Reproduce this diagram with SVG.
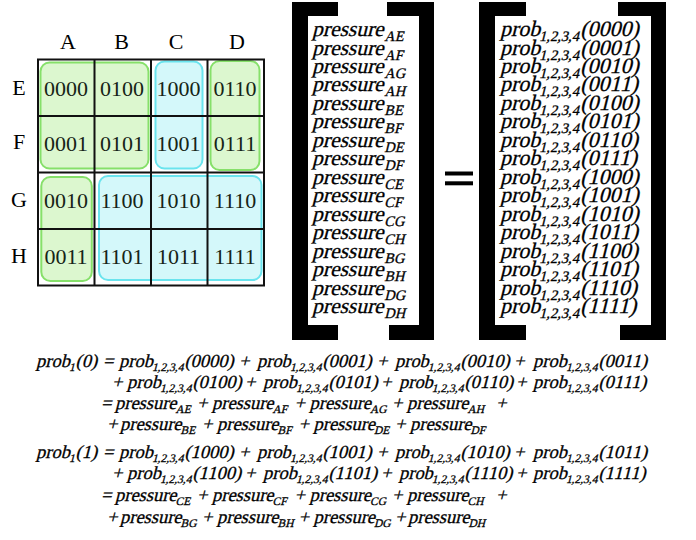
<svg xmlns="http://www.w3.org/2000/svg" width="696" height="540" viewBox="0 0 696 540">
<style>
text{font-family:"Liberation Serif","Times New Roman",serif;fill:#000}
.lbl{font-size:22px;text-anchor:middle}
.cell{font-size:22px;text-anchor:middle;fill:#162416}
.g{fill:#dcf7cf;stroke:#86e06a;stroke-width:2}
.c{fill:#d4f8fa;stroke:#6ae4ee;stroke-width:2}
.grid{stroke:#111;stroke-width:2;fill:none}
.m1{font-size:21.5px}
.m2{font-size:22px}
.eq{font-size:18.5px}
.m1 text,.m2 text,.eq text{stroke:#000;stroke-width:0.3}
.s{font-size:14.5px}
.es{font-size:11.5px}
.br{fill:#000}
</style>
<g id="kmap">
  <rect class="g" x="40.5" y="62.5" width="108" height="106" rx="9"/>
  <rect class="c" x="155.5" y="61.5" width="47" height="107" rx="9"/>
  <rect class="g" x="210.5" y="61" width="49" height="109" rx="9"/>
  <rect class="g" x="41.3" y="177" width="50.5" height="104" rx="9"/>
  <rect class="c" x="99" y="176" width="162.5" height="104" rx="9"/>
  <rect class="grid" x="38" y="59.5" width="226" height="226"/>
  <path class="grid" d="M94.5,59.5V285.5M151,59.5V285.5M207.5,59.5V285.5M38,116H264M38,172.5H264M38,229H264"/>
  <text class="lbl" x="68" y="49">A</text>
  <text class="lbl" x="121.5" y="49">B</text>
  <text class="lbl" x="176" y="49">C</text>
  <text class="lbl" x="237" y="49">D</text>
  <text class="lbl" x="19" y="95">E</text>
  <text class="lbl" x="19" y="149">F</text>
  <text class="lbl" x="19" y="207">G</text>
  <text class="lbl" x="19" y="263">H</text>
  <text class="cell" x="66" y="96">0000</text>
  <text class="cell" x="122" y="96">0100</text>
  <text class="cell" x="178.5" y="96">1000</text>
  <text class="cell" x="235" y="96">0110</text>
  <text class="cell" x="66" y="150.5">0001</text>
  <text class="cell" x="122" y="150.5">0101</text>
  <text class="cell" x="178.5" y="150.5">1001</text>
  <text class="cell" x="235" y="150.5">0111</text>
  <text class="cell" x="66" y="208">0010</text>
  <text class="cell" x="122" y="208">1100</text>
  <text class="cell" x="178.5" y="208">1010</text>
  <text class="cell" x="235" y="208">1110</text>
  <text class="cell" x="66" y="264">0011</text>
  <text class="cell" x="122" y="264">1101</text>
  <text class="cell" x="178.5" y="264">1011</text>
  <text class="cell" x="235" y="264">1111</text>
</g>
<g id="matrix-pressure">
  <path class="br" d="M292,2H338V16H308V325H338V340H292Z"/>
  <path class="br" d="M387,2H434V340H389V325H419V16H387Z"/>
  <g class="m1">
    <text x="312" transform="translate(0,36) skewX(-14)">pressure<tspan class="s" dx="2" dy="5">AE</tspan></text>
    <text x="312" transform="translate(0,54.5) skewX(-14)">pressure<tspan class="s" dx="2" dy="5">AF</tspan></text>
    <text x="312" transform="translate(0,72.9) skewX(-14)">pressure<tspan class="s" dx="2" dy="5">AG</tspan></text>
    <text x="312" transform="translate(0,91.4) skewX(-14)">pressure<tspan class="s" dx="2" dy="5">AH</tspan></text>
    <text x="312" transform="translate(0,109.9) skewX(-14)">pressure<tspan class="s" dx="2" dy="5">BE</tspan></text>
    <text x="312" transform="translate(0,128.4) skewX(-14)">pressure<tspan class="s" dx="2" dy="5">BF</tspan></text>
    <text x="312" transform="translate(0,146.8) skewX(-14)">pressure<tspan class="s" dx="2" dy="5">DE</tspan></text>
    <text x="312" transform="translate(0,165.3) skewX(-14)">pressure<tspan class="s" dx="2" dy="5">DF</tspan></text>
    <text x="312" transform="translate(0,183.8) skewX(-14)">pressure<tspan class="s" dx="2" dy="5">CE</tspan></text>
    <text x="312" transform="translate(0,202.2) skewX(-14)">pressure<tspan class="s" dx="2" dy="5">CF</tspan></text>
    <text x="312" transform="translate(0,220.7) skewX(-14)">pressure<tspan class="s" dx="2" dy="5">CG</tspan></text>
    <text x="312" transform="translate(0,239.2) skewX(-14)">pressure<tspan class="s" dx="2" dy="5">CH</tspan></text>
    <text x="312" transform="translate(0,257.6) skewX(-14)">pressure<tspan class="s" dx="2" dy="5">BG</tspan></text>
    <text x="312" transform="translate(0,276.1) skewX(-14)">pressure<tspan class="s" dx="2" dy="5">BH</tspan></text>
    <text x="312" transform="translate(0,294.6) skewX(-14)">pressure<tspan class="s" dx="2" dy="5">DG</tspan></text>
    <text x="312" transform="translate(0,313) skewX(-14)">pressure<tspan class="s" dx="2" dy="5">DH</tspan></text>
  </g>
</g>
<g id="equals">
  <rect class="br" x="445" y="171.5" width="28" height="4"/>
  <rect class="br" x="445" y="181.3" width="28" height="4"/>
</g>
<g id="matrix-prob">
  <path class="br" d="M479,2H526V16H495V325H526V340H479Z"/>
  <path class="br" d="M618,2H666V340H620V325H651V16H618Z"/>
  <g class="m2">
    <text x="500" transform="translate(0,36) skewX(-14)">prob<tspan class="s" dy="5">1,2,3,4</tspan><tspan dy="-5">(0000)</tspan></text>
    <text x="500" transform="translate(0,54.5) skewX(-14)">prob<tspan class="s" dy="5">1,2,3,4</tspan><tspan dy="-5">(0001)</tspan></text>
    <text x="500" transform="translate(0,72.9) skewX(-14)">prob<tspan class="s" dy="5">1,2,3,4</tspan><tspan dy="-5">(0010)</tspan></text>
    <text x="500" transform="translate(0,91.4) skewX(-14)">prob<tspan class="s" dy="5">1,2,3,4</tspan><tspan dy="-5">(0011)</tspan></text>
    <text x="500" transform="translate(0,109.9) skewX(-14)">prob<tspan class="s" dy="5">1,2,3,4</tspan><tspan dy="-5">(0100)</tspan></text>
    <text x="500" transform="translate(0,128.4) skewX(-14)">prob<tspan class="s" dy="5">1,2,3,4</tspan><tspan dy="-5">(0101)</tspan></text>
    <text x="500" transform="translate(0,146.8) skewX(-14)">prob<tspan class="s" dy="5">1,2,3,4</tspan><tspan dy="-5">(0110)</tspan></text>
    <text x="500" transform="translate(0,165.3) skewX(-14)">prob<tspan class="s" dy="5">1,2,3,4</tspan><tspan dy="-5">(0111)</tspan></text>
    <text x="500" transform="translate(0,183.8) skewX(-14)">prob<tspan class="s" dy="5">1,2,3,4</tspan><tspan dy="-5">(1000)</tspan></text>
    <text x="500" transform="translate(0,202.2) skewX(-14)">prob<tspan class="s" dy="5">1,2,3,4</tspan><tspan dy="-5">(1001)</tspan></text>
    <text x="500" transform="translate(0,220.7) skewX(-14)">prob<tspan class="s" dy="5">1,2,3,4</tspan><tspan dy="-5">(1010)</tspan></text>
    <text x="500" transform="translate(0,239.2) skewX(-14)">prob<tspan class="s" dy="5">1,2,3,4</tspan><tspan dy="-5">(1011)</tspan></text>
    <text x="500" transform="translate(0,257.6) skewX(-14)">prob<tspan class="s" dy="5">1,2,3,4</tspan><tspan dy="-5">(1100)</tspan></text>
    <text x="500" transform="translate(0,276.1) skewX(-14)">prob<tspan class="s" dy="5">1,2,3,4</tspan><tspan dy="-5">(1101)</tspan></text>
    <text x="500" transform="translate(0,294.6) skewX(-14)">prob<tspan class="s" dy="5">1,2,3,4</tspan><tspan dy="-5">(1110)</tspan></text>
    <text x="500" transform="translate(0,313) skewX(-14)">prob<tspan class="s" dy="5">1,2,3,4</tspan><tspan dy="-5">(1111)</tspan></text>
  </g>
</g>
<g id="equations" class="eq">
  <text transform="translate(0,366.5) skewX(-14)"><tspan x="36">prob</tspan><tspan class="es" dy="4">1</tspan><tspan dy="-4">(0)</tspan><tspan x="103">=</tspan><tspan x="119">prob</tspan><tspan class="es" dy="4">1,2,3,4</tspan><tspan dy="-4">(0000)</tspan><tspan x="239">+</tspan><tspan x="257">prob</tspan><tspan class="es" dy="4">1,2,3,4</tspan><tspan dy="-4">(0001)</tspan><tspan x="377">+</tspan><tspan x="395">prob</tspan><tspan class="es" dy="4">1,2,3,4</tspan><tspan dy="-4">(0010)</tspan><tspan x="514">+</tspan><tspan x="533">prob</tspan><tspan class="es" dy="4">1,2,3,4</tspan><tspan dy="-4">(0011)</tspan></text>
  <text transform="translate(0,388) skewX(-14)"><tspan x="112">+</tspan><tspan x="127">prob</tspan><tspan class="es" dy="4">1,2,3,4</tspan><tspan dy="-4">(0100)</tspan><tspan x="245">+</tspan><tspan x="263">prob</tspan><tspan class="es" dy="4">1,2,3,4</tspan><tspan dy="-4">(0101)</tspan><tspan x="381">+</tspan><tspan x="399">prob</tspan><tspan class="es" dy="4">1,2,3,4</tspan><tspan dy="-4">(0110)</tspan><tspan x="516">+</tspan><tspan x="533">prob</tspan><tspan class="es" dy="4">1,2,3,4</tspan><tspan dy="-4">(0111)</tspan></text>
  <text transform="translate(0,409) skewX(-14)"><tspan x="101">=</tspan><tspan x="115">pressure</tspan><tspan class="es" dy="4">AE</tspan><tspan x="197" dy="-4">+</tspan><tspan x="212">pressure</tspan><tspan class="es" dy="4">AF</tspan><tspan x="294.5" dy="-4">+</tspan><tspan x="309.5">pressure</tspan><tspan class="es" dy="4">AG</tspan><tspan x="392" dy="-4">+</tspan><tspan x="407">pressure</tspan><tspan class="es" dy="4">AH</tspan><tspan x="496" dy="-4">+</tspan></text>
  <text transform="translate(0,430) skewX(-14)"><tspan x="107">+</tspan><tspan x="120">pressure</tspan><tspan class="es" dy="4">BE</tspan><tspan x="202" dy="-4">+</tspan><tspan x="217">pressure</tspan><tspan class="es" dy="4">BF</tspan><tspan x="298.5" dy="-4">+</tspan><tspan x="313.5">pressure</tspan><tspan class="es" dy="4">DE</tspan><tspan x="395" dy="-4">+</tspan><tspan x="410">pressure</tspan><tspan class="es" dy="4">DF</tspan></text>
  <text transform="translate(0,457.5) skewX(-14)"><tspan x="36">prob</tspan><tspan class="es" dy="4">1</tspan><tspan dy="-4">(1)</tspan><tspan x="103">=</tspan><tspan x="119">prob</tspan><tspan class="es" dy="4">1,2,3,4</tspan><tspan dy="-4">(1000)</tspan><tspan x="239">+</tspan><tspan x="257">prob</tspan><tspan class="es" dy="4">1,2,3,4</tspan><tspan dy="-4">(1001)</tspan><tspan x="377">+</tspan><tspan x="395">prob</tspan><tspan class="es" dy="4">1,2,3,4</tspan><tspan dy="-4">(1010)</tspan><tspan x="514">+</tspan><tspan x="533">prob</tspan><tspan class="es" dy="4">1,2,3,4</tspan><tspan dy="-4">(1011)</tspan></text>
  <text transform="translate(0,478.5) skewX(-14)"><tspan x="112">+</tspan><tspan x="127">prob</tspan><tspan class="es" dy="4">1,2,3,4</tspan><tspan dy="-4">(1100)</tspan><tspan x="245">+</tspan><tspan x="263">prob</tspan><tspan class="es" dy="4">1,2,3,4</tspan><tspan dy="-4">(1101)</tspan><tspan x="381">+</tspan><tspan x="399">prob</tspan><tspan class="es" dy="4">1,2,3,4</tspan><tspan dy="-4">(1110)</tspan><tspan x="516">+</tspan><tspan x="533">prob</tspan><tspan class="es" dy="4">1,2,3,4</tspan><tspan dy="-4">(1111)</tspan></text>
  <text transform="translate(0,500.5) skewX(-14)"><tspan x="101">=</tspan><tspan x="115">pressure</tspan><tspan class="es" dy="4">CE</tspan><tspan x="197" dy="-4">+</tspan><tspan x="212">pressure</tspan><tspan class="es" dy="4">CF</tspan><tspan x="294.5" dy="-4">+</tspan><tspan x="309.5">pressure</tspan><tspan class="es" dy="4">CG</tspan><tspan x="392" dy="-4">+</tspan><tspan x="407">pressure</tspan><tspan class="es" dy="4">CH</tspan><tspan x="496" dy="-4">+</tspan></text>
  <text transform="translate(0,522.5) skewX(-14)"><tspan x="107">+</tspan><tspan x="120">pressure</tspan><tspan class="es" dy="4">BG</tspan><tspan x="202" dy="-4">+</tspan><tspan x="217">pressure</tspan><tspan class="es" dy="4">BH</tspan><tspan x="298.5" dy="-4">+</tspan><tspan x="313.5">pressure</tspan><tspan class="es" dy="4">DG</tspan><tspan x="395" dy="-4">+</tspan><tspan x="408">pressure</tspan><tspan class="es" dy="4">DH</tspan></text>
</g>
<g id="connectors"/>
</svg>
